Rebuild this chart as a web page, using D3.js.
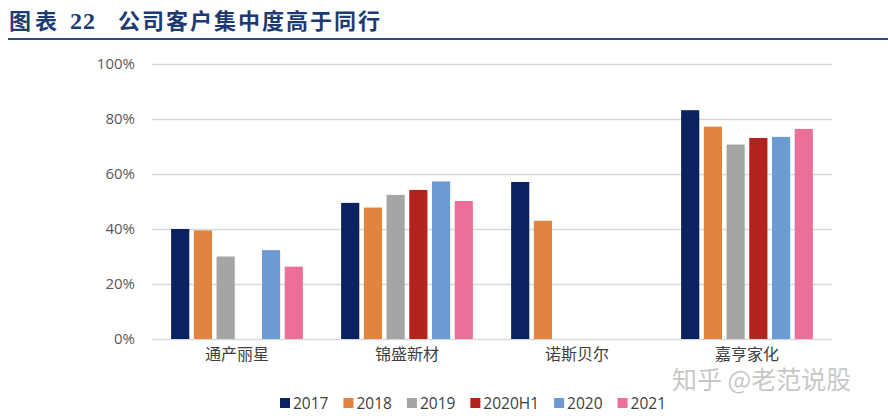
<!DOCTYPE html>
<html>
<head>
<meta charset="utf-8">
<script src="https://cdn.jsdelivr.net/npm/d3@7"></script>
<style>
  body { margin: 0; background: #fff; }
  svg { display: block; }
</style>
</head>
<body>
<div id="chart"></div>
<script>
// data (percent)
var categories = ["通产丽星", "锦盛新材", "诺斯贝尔", "嘉亨家化"];
var seriesNames = ["2017", "2018", "2019", "2020H1", "2020", "2021"];
var s2017   = [40.0, 49.5, 57.1, 83.2];
var s2018   = [39.5, 47.8, 43.0, 77.2];
var s2019   = [30.0, 52.4, null, 70.7];
var s2020H1 = [null, 54.2, null, 73.1];
var s2020   = [32.3, 57.3, null, 73.5];
var s2021   = [26.3, 50.2, null, 76.4];
var yTicks = [0, 20, 40, 60, 80, 100];

var seriesValues = [s2017, s2018, s2019, s2020H1, s2020, s2021];
var colors = ["#0c2260", "#e0843f", "#a5a5a5", "#b3231d", "#6b9bd2", "#ec6f9a"];

var W = 888, H = 416;
var margin = {top: 64, right: 56, bottom: 77, left: 152};
var width = W - margin.left - margin.right;
var height = H - margin.top - margin.bottom;

var svg = d3.select("#chart").append("svg")
  .attr("width", W)
  .attr("height", H);

// title
var title = svg.append("text")
  .attr("x", 9)
  .attr("y", 29)
  .attr("fill", "#1d3b73")
  .style("font-weight", "bold")
  .style("font-size", "22px");
title.append("tspan").style("font-family", "'Noto Sans CJK SC'").style("letter-spacing", "4px").text("图表 ");
title.append("tspan").style("font-family", "'Liberation Serif', serif").style("font-size", "24px").style("letter-spacing", "1px").text("22");
title.append("tspan").attr("dx", 22).style("font-family", "'Noto Sans CJK SC'").style("letter-spacing", "2px").text("公司客户集中度高于同行");

svg.append("rect")
  .attr("x", 8).attr("y", 38)
  .attr("width", W - 8).attr("height", 2)
  .attr("fill", "#2a4a82");

var g = svg.append("g")
  .attr("transform", "translate(" + margin.left + "," + margin.top + ")");

//scales
var x0 = d3.scaleBand()
  .domain(categories)
  .range([0, width]);

var x1 = d3.scaleBand()
  .domain(seriesNames)
  .range([0, x0.bandwidth() * 0.775])
  .paddingInner(0.2);

var y = d3.scaleLinear()
  .domain([0, 100])
  .range([height, 0]);

// grid
var yAxis = d3.axisLeft(y)
  .tickValues(yTicks)
  .tickSizeInner(-width)
  .tickSizeOuter(0)
  .tickPadding(17)
  .tickFormat(function(d) { return d + "%"; });

var ya = g.append("g").call(yAxis);
ya.select(".domain").remove();
ya.selectAll("line").attr("stroke", "#d9d9d9").attr("stroke-width", 1.3);
ya.selectAll("text")
  .attr("fill", "#595959")
  .style("font-family", "'Open Sans', 'Noto Sans', sans-serif")
  .style("font-size", "15px");

// bars
var groupOffset = (x0.bandwidth() - x1.range()[1]) / 2;
var groups = g.selectAll("g.grp")
  .data(categories)
  .enter().append("g")
  .attr("class", "grp")
  .attr("transform", function(d) { return "translate(" + (x0(d) + groupOffset) + ",0)"; });

groups.selectAll("rect")
  .data(function(d, i) {
    return seriesNames.map(function(s, j) { return {name: s, value: seriesValues[j][i], color: colors[j]}; })
      .filter(function(e) { return e.value != null; });
  })
  .enter().append("rect")
  .attr("x", function(d) { return x1(d.name); })
  .attr("width", x1.bandwidth())
  .attr("y", function(d) { return y(d.value); })
  .attr("height", function(d) { return height - y(d.value); })
  .attr("fill", function(d) { return d.color; });

// x labels
var xAxis = d3.axisBottom(x0).tickSize(0).tickPadding(10);
var xa = g.append("g")
  .attr("transform", "translate(0," + height + ")")
  .call(xAxis);
xa.select(".domain").remove();
xa.selectAll("text")
  .attr("fill", "#404040")
  .style("font-family", "'Noto Sans CJK SC'")
  .style("font-size", "16px");

// legend
var legend = svg.append("g").attr("transform", "translate(280,403)");
var lx = 0;
seriesNames.forEach(function(s, i) {
  var item = legend.append("g").attr("transform", "translate(" + lx + ",0)");
  item.append("rect")
    .attr("x", 0).attr("y", -5)
    .attr("width", 10).attr("height", 10)
    .attr("fill", colors[i]);
  var t = item.append("text")
    .attr("x", 13)
    .attr("y", 5.5)
    .attr("fill", "#404040")
    .style("font-family", "'Open Sans', 'Noto Sans', sans-serif")
    .style("font-size", "15.5px")
    .text(s);
  lx += 13 + t.node().getComputedTextLength() + 15;
});

// watermark
svg.append("text")
  .attr("x", 672)
  .attr("y", 389)
  .attr("fill", "#b5b5b5")
  .attr("fill-opacity", 0.75)
  .style("font-family", "'Noto Sans CJK SC'")
  .style("font-size", "25px")
  .text("知乎 @老范说股");
</script>
</body>
</html>
